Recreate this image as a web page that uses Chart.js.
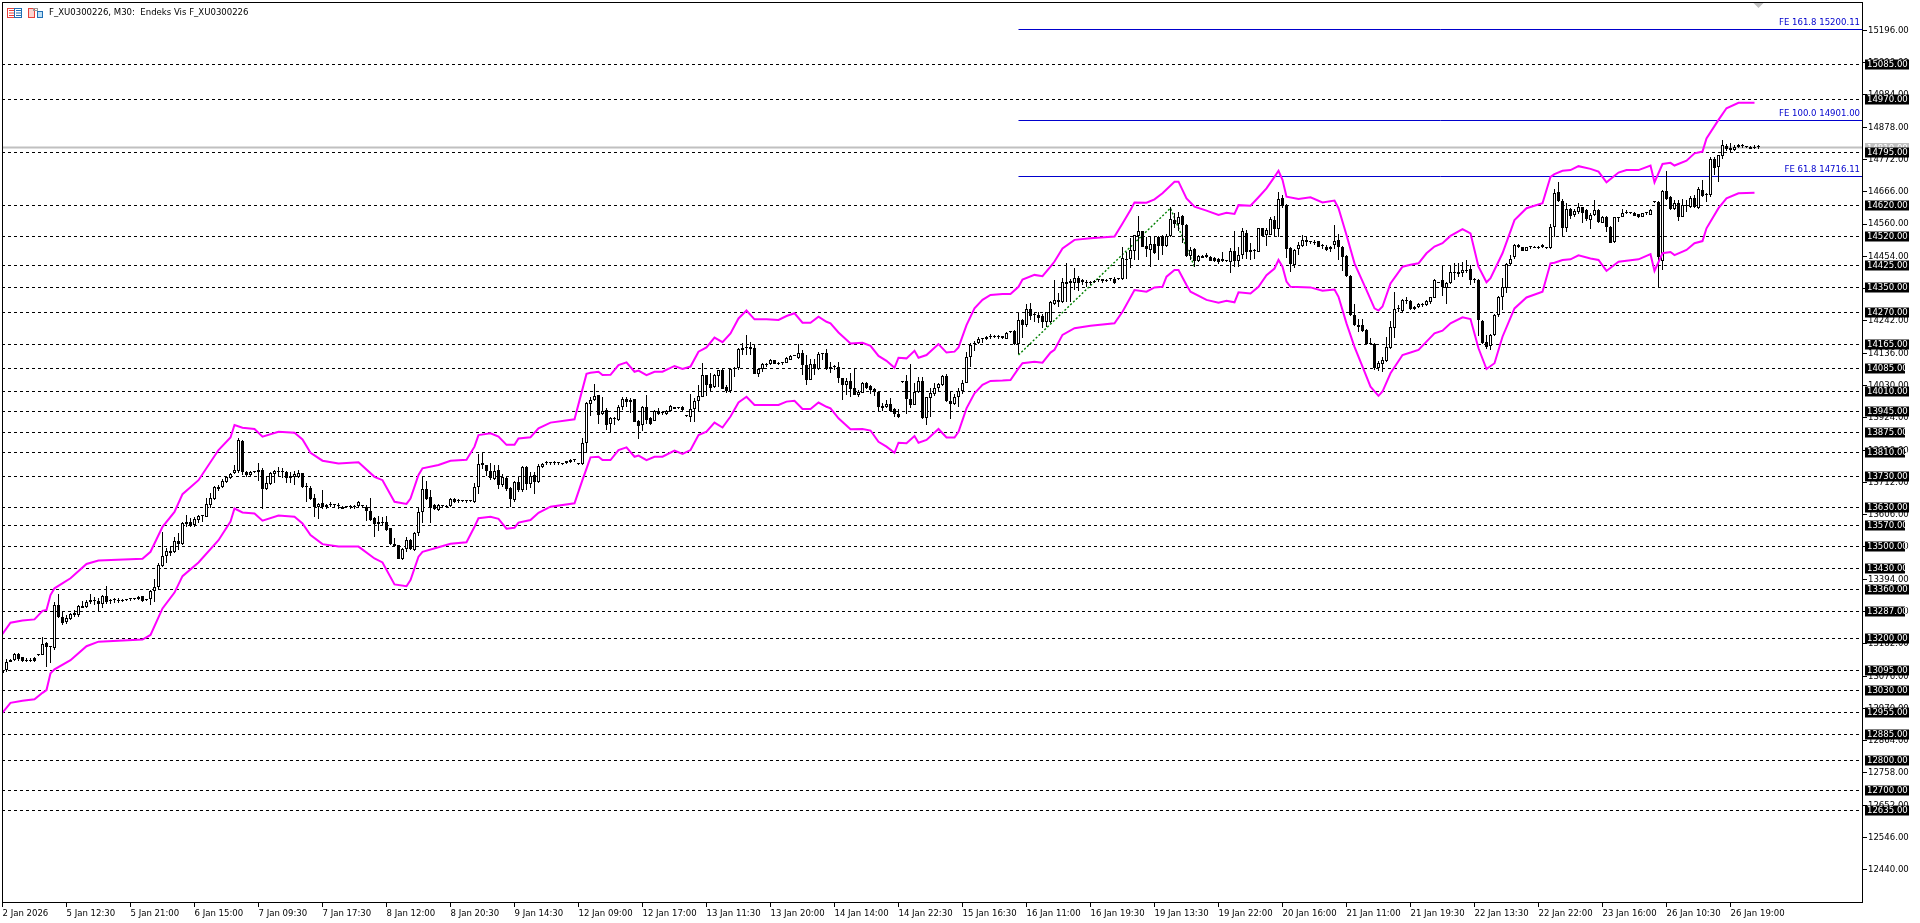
<!DOCTYPE html>
<html>
<head>
<meta charset="utf-8">
<title>F_XU0300226, M30</title>
<script src="https://cdn.jsdelivr.net/npm/chart.js@4"></script>
<style>
	html, body { margin: 0; padding: 0; background: #ffffff; }
	canvas { display: block; }
</style>
</head>
<body>
<canvas id="myChart" width="1920" height="923"></canvas>
<script>
var opens = [
	13096,13096,13128,13128,13147,13137,13129,13130,13134,13144,
	13145,13183,13170,13167,13309,13271,13254,13263,13276,13276,
	13306,13304,13319,13322,13321,13312,13339,13326,13326,13326,
	13324,13325,13328,13329,13328,13338,13325,13329,13354,13367,
	13438,13470,13485,13484,13518,13509,13583,13583,13572,13588,
	13601,13599,13637,13657,13696,13696,13713,13726,13741,13750,
	13849,13747,13737,13746,13745,13751,13689,13706,13739,13749,
	13747,13747,13725,13731,13728,13741,13697,13692,13659,13632,
	13643,13636,13638,13636,13636,13626,13631,13632,13632,13635,
	13634,13632,13617,13594,13575,13583,13583,13561,13511,13505,
	13461,13492,13522,13490,13544,13614,13689,13663,13637,13621,
	13634,13632,13634,13658,13652,13650,13650,13650,13649,13698,
	13774,13768,13748,13724,13751,13703,13727,13692,13654,13713,
	13687,13762,13708,13735,13714,13763,13774,13774,13775,13774,
	13773,13774,13780,13784,13771,13772,13842,13970,13982,13998,
	13936,13949,13903,13924,13917,13959,13985,13982,13985,13912,
	13899,13958,13922,13914,13947,13939,13936,13945,13958,13956,
	13958,13929,13928,13953,13978,13993,14063,14035,14024,14062,
	14081,14024,14011,14088,14087,14152,14157,14157,14152,14069,
	14084,14102,14100,14112,14103,14103,14105,14115,14128,14121,
	14137,14096,14049,14100,14084,14134,14135,14091,14090,14090,
	14053,14032,14044,14021,13999,14006,14037,14028,14018,14010,
	13964,13960,13969,13952,13936,14040,14044,13984,13967,14009,
	14044,13924,13990,14002,14023,14032,14061,13978,13968,13991,
	14011,14039,14122,14166,14168,14183,14181,14190,14193,14190,
	14191,14184,14206,14208,14166,14245,14230,14281,14261,14261,
	14258,14239,14237,14299,14310,14304,14370,14373,14367,14382,
	14376,14366,14367,14369,14376,14373,14376,14378,14378,14378,
	14378,14442,14444,14473,14522,14537,14489,14475,14494,14519,
	14521,14489,14521,14573,14560,14586,14557,14455,14478,14440,
	14450,14457,14453,14447,14446,14438,14438,14435,14470,14440,
	14457,14530,14475,14473,14469,14546,14525,14525,14573,14544,
	14645,14622,14482,14427,14477,14488,14508,14501,14502,14504,
	14488,14486,14486,14490,14508,14485,14455,14390,14261,14229,
	14229,14212,14166,14165,14086,14101,14111,14152,14220,14280,
	14276,14307,14307,14280,14289,14294,14293,14303,14318,14368,
	14376,14349,14365,14404,14403,14398,14410,14411,14376,14376,
	14243,14172,14160,14196,14261,14319,14349,14429,14451,14492,
	14484,14473,14484,14486,14486,14484,14480,14481,14549,14664,
	14637,14548,14609,14589,14600,14615,14606,14573,14589,14606,
	14564,14584,14551,14501,14582,14583,14597,14595,14597,14593,
	14584,14595,14591,14632,14632,14438,14670,14650,14609,14630,
	14584,14621,14617,14644,14613,14672,14655,14654,14775,14748,
	14783,14816,14811,14803,14812,14817,14813,14814,14813,14813
];
var highs = [
	13101,13131,13131,13153,13153,13139,13134,13135,13137,13145,
	13205,13189,13171,13320,13347,13289,13276,13282,13293,13308,
	13322,13326,13347,13334,13331,13342,13371,13330,13332,13331,
	13328,13326,13332,13330,13339,13340,13326,13358,13393,13446,
	13549,13495,13501,13531,13544,13582,13605,13594,13599,13605,
	13605,13659,13676,13700,13703,13724,13733,13744,13769,13856,
	13851,13749,13749,13747,13774,13758,13728,13747,13754,13763,
	13758,13750,13747,13750,13752,13743,13711,13700,13673,13643,
	13687,13641,13648,13641,13645,13633,13632,13636,13636,13650,
	13635,13636,13659,13599,13601,13599,13601,13563,13528,13507,
	13496,13531,13527,13549,13632,13728,13717,13687,13641,13641,
	13639,13636,13660,13661,13658,13651,13654,13651,13709,13805,
	13809,13770,13774,13768,13768,13739,13728,13698,13715,13728,
	13766,13766,13747,13747,13772,13777,13783,13780,13781,13780,
	13776,13782,13790,13790,13772,13856,13977,13993,14035,13999,
	13991,13955,13928,13928,13965,13993,13991,13988,13987,13917,
	13963,13999,13928,13949,13955,13944,13949,13965,13959,13957,
	13963,13930,14002,13988,14032,14103,14065,14070,14068,14081,
	14083,14032,14086,14092,14152,14168,14196,14174,14166,14086,
	14105,14105,14117,14114,14107,14107,14122,14129,14129,14165,
	14146,14129,14116,14116,14140,14135,14149,14108,14096,14108,
	14056,14053,14070,14086,14015,14041,14040,14030,14022,14012,
	13971,13982,13988,13955,13952,14041,14064,14100,14039,14059,
	14059,13993,14021,14039,14039,14064,14068,14013,14002,14023,
	14048,14141,14168,14177,14188,14184,14192,14199,14196,14196,
	14193,14207,14207,14212,14267,14249,14297,14300,14272,14272,
	14265,14272,14307,14376,14335,14382,14431,14378,14415,14389,
	14381,14376,14374,14375,14378,14379,14381,14383,14385,14379,
	14484,14469,14513,14525,14586,14538,14516,14519,14521,14521,
	14523,14527,14617,14595,14601,14590,14560,14483,14480,14458,
	14457,14464,14454,14451,14450,14468,14439,14480,14536,14486,
	14546,14540,14497,14477,14547,14548,14546,14584,14586,14666,
	14655,14625,14486,14477,14501,14524,14516,14505,14508,14505,
	14494,14491,14488,14557,14527,14488,14458,14393,14297,14247,
	14247,14214,14185,14168,14110,14125,14188,14243,14338,14294,
	14313,14322,14311,14290,14302,14300,14311,14322,14378,14369,
	14423,14371,14426,14431,14431,14436,14442,14426,14382,14378,
	14245,14196,14198,14264,14324,14382,14433,14458,14494,14494,
	14486,14486,14488,14487,14489,14494,14481,14560,14674,14699,
	14641,14628,14612,14608,14630,14617,14608,14595,14639,14608,
	14586,14586,14553,14584,14584,14608,14606,14596,14598,14594,
	14597,14600,14608,14633,14634,14672,14734,14652,14639,14639,
	14641,14639,14652,14655,14680,14705,14661,14779,14781,14788,
	14836,14823,14827,14818,14823,14823,14815,14815,14819,14821
];
var lows = [
	13083,13090,13121,13126,13126,13123,13123,13123,13123,13143,
	13144,13105,13120,13161,13265,13244,13247,13260,13271,13271,
	13298,13298,13312,13309,13287,13301,13312,13312,13317,13315,
	13320,13324,13323,13328,13326,13320,13324,13310,13320,13361,
	13435,13446,13470,13481,13490,13506,13564,13564,13564,13579,
	13583,13599,13627,13654,13685,13692,13711,13724,13739,13741,
	13736,13731,13733,13745,13717,13623,13687,13702,13709,13733,
	13725,13711,13709,13703,13725,13695,13648,13654,13599,13592,
	13626,13623,13630,13630,13626,13625,13630,13626,13623,13632,
	13633,13586,13586,13531,13553,13572,13553,13506,13501,13459,
	13457,13484,13490,13487,13536,13580,13654,13580,13621,13618,
	13630,13630,13632,13645,13645,13649,13643,13649,13643,13674,
	13755,13733,13720,13720,13691,13698,13685,13632,13649,13681,
	13680,13687,13692,13674,13711,13760,13769,13770,13770,13769,
	13769,13773,13777,13779,13770,13769,13807,13930,13980,13903,
	13933,13884,13875,13900,13914,13949,13958,13941,13909,13855,
	13882,13903,13899,13912,13934,13933,13933,13944,13953,13955,
	13947,13928,13911,13911,13944,13991,13995,14010,14022,14026,
	14017,14004,14004,14057,14081,14130,14130,14130,14067,14059,
	14075,14090,14097,14099,14096,14098,14103,14112,14127,14118,
	14064,14030,14047,14063,14082,14114,14081,14070,14081,14039,
	13982,13999,13993,13999,13993,14004,14020,14002,13996,13944,
	13947,13956,13944,13925,13924,14039,13936,13956,13965,14006,
	13920,13901,13928,13995,14010,14029,13977,13921,13966,13960,
	14001,14037,14092,14144,14166,14171,14179,14184,14185,14184,
	14181,14181,14205,14163,14132,14187,14223,14245,14239,14234,
	14218,14223,14235,14294,14289,14300,14305,14305,14343,14341,
	14359,14354,14361,14368,14370,14368,14370,14374,14363,14377,
	14376,14378,14415,14442,14442,14484,14453,14420,14462,14442,
	14459,14486,14519,14546,14538,14497,14453,14442,14420,14436,
	14449,14448,14438,14435,14429,14435,14437,14398,14418,14418,
	14444,14446,14442,14444,14467,14519,14488,14523,14519,14519,
	14612,14447,14404,14415,14458,14484,14488,14494,14491,14485,
	14479,14473,14468,14477,14442,14407,14385,14258,14225,14207,
	14205,14163,14163,14081,14079,14075,14108,14149,14185,14271,
	14269,14297,14278,14279,14283,14287,14291,14297,14316,14367,
	14324,14297,14363,14376,14387,14387,14398,14359,14365,14192,
	14165,14149,14146,14192,14256,14278,14335,14425,14444,14480,
	14471,14470,14479,14480,14479,14481,14479,14479,14516,14632,
	14516,14535,14575,14584,14592,14564,14571,14545,14586,14562,
	14562,14535,14497,14499,14567,14582,14593,14594,14586,14581,
	14582,14591,14590,14631,14354,14409,14639,14606,14606,14571,
	14582,14601,14612,14612,14610,14648,14632,14650,14721,14699,
	14775,14801,14796,14799,14809,14810,14809,14805,14806,14805
];
var closes = [
	13085,13123,13123,13147,13131,13126,13127,13127,13126,13144,
	13180,13170,13170,13309,13269,13251,13265,13279,13282,13306,
	13300,13320,13326,13322,13312,13340,13320,13321,13325,13323,
	13321,13325,13328,13329,13335,13321,13325,13355,13368,13441,
	13470,13486,13481,13518,13510,13577,13575,13569,13591,13601,
	13601,13640,13659,13696,13691,13716,13728,13740,13752,13851,
	13747,13737,13745,13746,13751,13689,13709,13741,13749,13746,
	13747,13725,13734,13740,13741,13697,13696,13656,13632,13642,
	13631,13632,13637,13636,13635,13632,13631,13632,13631,13646,
	13634,13619,13588,13575,13583,13579,13557,13508,13503,13461,
	13493,13522,13492,13547,13613,13689,13657,13627,13624,13638,
	13634,13632,13658,13647,13652,13650,13650,13650,13696,13771,
	13768,13748,13726,13750,13704,13728,13690,13656,13713,13687,
	13763,13708,13734,13714,13766,13772,13774,13774,13775,13774,
	13772,13781,13786,13784,13771,13842,13971,13981,13995,13934,
	13947,13901,13924,13920,13959,13985,13977,13977,13911,13898,
	13958,13917,13903,13947,13936,13939,13947,13963,13954,13956,
	13949,13929,13952,13978,13995,14063,14033,14023,14063,14080,
	14020,14011,14084,14083,14149,14146,14154,14151,14069,14084,
	14100,14098,14114,14102,14102,14103,14120,14127,14128,14135,
	14096,14049,14099,14085,14133,14132,14083,14083,14089,14053,
	14032,14044,14018,13999,14007,14037,14022,14014,14007,13960,
	13957,13969,13947,13935,13928,14040,13987,13967,14010,14044,
	13922,13991,14004,14021,14035,14061,13979,13968,13991,14011,
	14037,14122,14164,14166,14183,14183,14189,14190,14190,14190,
	14186,14202,14206,14165,14245,14229,14281,14259,14260,14251,
	14239,14270,14305,14311,14303,14370,14364,14365,14382,14367,
	14371,14366,14367,14374,14376,14378,14374,14378,14367,14378,
	14447,14446,14475,14523,14537,14486,14479,14494,14466,14488,
	14488,14521,14575,14560,14582,14557,14455,14475,14439,14455,
	14456,14453,14439,14438,14435,14445,14438,14470,14440,14457,
	14537,14468,14468,14472,14546,14521,14540,14575,14543,14641,
	14620,14479,14429,14475,14490,14508,14502,14501,14497,14486,
	14487,14476,14477,14505,14485,14453,14388,14260,14227,14221,
	14209,14165,14165,14086,14103,14114,14155,14221,14280,14280,
	14311,14307,14281,14289,14297,14294,14307,14319,14376,14368,
	14354,14365,14403,14398,14396,14409,14407,14376,14376,14245,
	14168,14155,14196,14261,14322,14352,14429,14444,14491,14484,
	14473,14484,14484,14481,14480,14492,14480,14549,14663,14636,
	14548,14608,14587,14603,14615,14597,14575,14590,14606,14568,
	14584,14549,14499,14582,14581,14595,14597,14595,14587,14582,
	14595,14595,14606,14632,14453,14670,14642,14609,14628,14584,
	14621,14620,14644,14615,14674,14652,14654,14772,14743,14786,
	14818,14805,14803,14812,14818,14817,14813,14806,14810,14812
];

// band vertices: bar number and price
var upperBars = [0,2,5,8,10,11,12,13,17,21,24,35,37,40,43,45,49,54,57,58,60,63,65,69,73,75,77,80,84,89,93,95,98,101,102,104,105,109,112,116,118,119,122,124,126,128,129,132,134,137,143,146,147,149,150,152,154,156,158,159,161,163,165,168,170,172,174,176,178,180,182,184,186,188,191,194,196,198,200,202,204,206,207,209,212,215,217,219,221,223,224,226,228,229,231,234,236,238,239,241,243,245,247,250,252,254,255,258,260,262,263,265,268,272,278,280,282,283,286,288,290,293,294,296,298,301,304,306,308,309,312,314,316,318,319,320,321,324,327,330,333,334,336,338,341,343,344,345,347,350,352,354,356,358,360,362,365,367,369,371,372,375,378,381,385,387,388,390,392,394,397,399,401,404,406,409,412,413,415,417,418,421,423,425,426,429,431,434,438];
var upperVals = [13214,13251,13258,13262,13290,13293,13342,13364,13397,13444,13455,13461,13484,13566,13615,13673,13719,13818,13859,13900,13891,13887,13862,13878,13875,13853,13809,13783,13774,13778,13730,13719,13648,13641,13659,13736,13758,13769,13783,13786,13829,13867,13873,13862,13835,13835,13856,13860,13889,13908,13919,14068,14072,14075,14064,14065,14097,14106,14075,14079,14064,14075,14075,14094,14084,14092,14141,14155,14187,14172,14201,14250,14276,14247,14247,14245,14258,14267,14236,14236,14256,14239,14234,14204,14168,14170,14160,14127,14111,14088,14121,14119,14144,14121,14130,14166,14138,14141,14155,14228,14283,14311,14327,14330,14330,14354,14378,14393,14389,14420,14437,14480,14508,14513,14519,14562,14606,14631,14630,14641,14661,14699,14699,14644,14617,14604,14590,14597,14593,14622,14620,14648,14677,14715,14735,14705,14650,14642,14648,14631,14637,14612,14524,14431,14343,14283,14276,14289,14365,14420,14426,14431,14464,14486,14497,14521,14543,14529,14420,14369,14382,14464,14573,14612,14628,14715,14724,14735,14737,14750,14741,14732,14697,14729,14737,14737,14752,14697,14757,14761,14752,14768,14792,14798,14841,14902,14940,14958,14958];
var lowerBars = [0,2,5,8,10,11,12,13,17,21,24,35,37,40,43,45,49,54,57,58,60,63,65,69,73,75,77,80,84,89,93,95,98,101,102,104,105,109,112,116,118,119,122,124,126,128,129,132,134,137,143,145,147,149,150,152,154,156,158,159,161,163,165,168,170,172,174,176,178,180,182,184,186,188,191,194,196,198,200,202,204,206,207,209,212,215,217,219,221,223,224,226,228,229,231,234,236,238,239,241,243,245,247,250,252,254,255,258,260,262,263,265,268,272,278,280,283,286,288,290,291,293,294,296,297,301,304,306,308,309,312,314,316,318,319,320,321,322,327,330,333,334,336,338,340,342,344,345,347,350,352,354,356,358,360,362,365,367,369,371,373,375,378,381,385,387,388,390,392,394,397,399,401,404,409,412,413,415,417,418,421,423,425,426,429,431,434,438];
var lowerVals = [12956,12988,12995,13000,13021,13030,13085,13098,13128,13174,13189,13196,13211,13298,13350,13404,13449,13522,13583,13626,13613,13610,13586,13603,13599,13577,13539,13509,13501,13501,13462,13449,13377,13371,13391,13468,13484,13499,13510,13515,13566,13594,13599,13592,13560,13563,13580,13588,13612,13632,13643,13720,13794,13796,13785,13785,13818,13827,13796,13800,13785,13796,13796,13816,13805,13818,13867,13878,13908,13892,13928,13974,13993,13966,13966,13966,13977,13980,13953,13953,13974,13960,13955,13922,13886,13887,13882,13845,13829,13809,13842,13840,13864,13842,13851,13887,13859,13859,13878,13955,14004,14032,14045,14046,14048,14086,14103,14108,14105,14138,14147,14196,14218,14226,14234,14272,14343,14338,14352,14354,14387,14409,14409,14360,14338,14311,14302,14308,14303,14336,14332,14354,14392,14414,14442,14420,14371,14354,14352,14341,14345,14321,14234,14157,14092,14026,13996,14010,14070,14130,14138,14147,14174,14201,14210,14234,14254,14248,14152,14084,14103,14190,14283,14319,14338,14431,14433,14442,14444,14457,14447,14442,14406,14436,14444,14461,14406,14464,14468,14458,14475,14497,14504,14546,14612,14644,14661,14663];

var levels = [15085,14970,14795,14620,14520,14425,14350,14270,14165,14085,14010,13945,13875,13810,13730,13630,13570,13500,13430,13360,13287,13200,13095,13030,12955,12885,12800,12700,12635];
var narrowLevels = [14085,13875,13810,13570,13500,13430,13287];
var bidPrice = 14811;
var bidLabel = '14810.00';
var feVals = [15200.11,14901.00,14716.11];
var feLabels = ['FE 161.8 15200.11','FE 100.0 14901.00','FE 61.8 14716.11'];
var feStartBar = 254;
var greenBars = [254,292,298];
var greenVals = [14130,14612,14420];

var yTicks = [15196,15090,14984,14878,14772,14666,14560,14454,14348,14242,14136,14030,13924,13818,13712,13606,13500,13394,13288,13182,13076,12970,12864,12758,12652,12546,12440];
var xTickBars = [0,16,32,48,64,80,96,112,128,144,160,176,192,208,224,240,256,272,288,304,320,336,352,368,384,400,416,432];
var xTickLabels = ['2 Jan 2026','5 Jan 12:30','5 Jan 21:00','6 Jan 15:00','7 Jan 09:30','7 Jan 17:30','8 Jan 12:00','8 Jan 20:30','9 Jan 14:30','12 Jan 09:00','12 Jan 17:00','13 Jan 11:30','13 Jan 20:00','14 Jan 14:00','14 Jan 22:30','15 Jan 16:30','16 Jan 11:00','16 Jan 19:30','19 Jan 13:30','19 Jan 22:00','20 Jan 16:00','21 Jan 11:00','21 Jan 19:30','22 Jan 13:30','22 Jan 22:00','23 Jan 16:00','26 Jan 10:30','26 Jan 19:00'];
var titleText = 'F_XU0300226, M30:  Endeks Vis F_XU0300226';

var xMin = -0.125;
var xMax = 465.125;
var axisFont = { family: '"DejaVu Sans Condensed", "Liberation Sans", sans-serif', size: 9.5 };
var axisFontCss = '9.5px "DejaVu Sans Condensed", "Liberation Sans", sans-serif';

function pairs(bars, vals) {
	return bars.map(function (b, i) {
		return { x: b, y: vals[i] };
	});
}

function flatLine(y, from) {
	return { type: 'line', data: [{ x: from, y: y }, { x: xMax, y: y }], pointRadius: 0, tension: 0, fill: false };
}

var datasets = [];

levels.forEach(function (level) {
	var d = flatLine(level, xMin);
	d.borderColor = '#000000';
	d.borderWidth = 1;
	d.borderDash = [3, 3];
	d.order = 6;
	d.snapLine = true;
	datasets.push(d);
});

var bid = flatLine(bidPrice, xMin);
bid.borderColor = '#c0c0c0';
bid.borderWidth = 2;
bid.order = 7;
datasets.push(bid);

feVals.forEach(function (v) {
	var d = flatLine(v, feStartBar);
	d.borderColor = '#0000cd';
	d.borderWidth = 1;
	d.order = 5;
	d.snapLine = true;
	datasets.push(d);
});

datasets.push({
	type: 'line',
	data: pairs(greenBars, greenVals),
	borderColor: '#008000',
	borderWidth: 1.4,
	borderDash: [2, 2],
	pointRadius: 0,
	tension: 0,
	fill: false,
	order: 4,
});

// wicks
datasets.push({
	type: 'bar',
	data: highs.map(function (h, i) {
		return { x: i, y: [lows[i], h] };
	}),
	backgroundColor: '#000000',
	borderWidth: 0,
	barThickness: 1,
	inflateAmount: 0,
	grouped: false,
	order: 3,
	snapBar: true,
});

// bodies
datasets.push({
	type: 'bar',
	data: opens.map(function (o, i) {
		return { x: i, y: [Math.min(o, closes[i]), Math.max(o, closes[i])] };
	}),
	backgroundColor: opens.map(function (o, i) {
		return closes[i] > o ? '#ffffff' : '#000000';
	}),
	borderColor: '#000000',
	borderWidth: 1,
	borderSkipped: false,
	barThickness: 3,
	inflateAmount: 0,
	minBarLength: 1,
	grouped: false,
	order: 2,
	snapBar: true,
});

[[upperBars, upperVals], [lowerBars, lowerVals]].forEach(function (band) {
	datasets.push({
		type: 'line',
		data: pairs(band[0], band[1]),
		borderColor: '#ff00ff',
		borderWidth: 2,
		pointRadius: 0,
		tension: 0,
		fill: false,
		order: 1,
	});
});

// keeps the thin lines and candles on whole pixels like the terminal draws them
var snapPlugin = {
	id: 'snapPlugin',
	afterDatasetsUpdate: function (chart) {
		chart.data.datasets.forEach(function (d, i) {
			var meta = chart.getDatasetMeta(i);
			if (d.snapLine) {
				meta.data.forEach(function (p) {
					p.y = Math.floor(p.y) + 0.5;
				});
			}
			if (d.snapBar) {
				meta.data.forEach(function (b) {
					b.y = Math.round(b.y);
					b.base = Math.round(b.base);
					if (b.base === b.y) {
						b.base = b.y + 1;
					}
				});
			}
		});
	},
};

function priceBox(ctx, y, right, fill, textColor, text) {
	ctx.fillStyle = fill;
	ctx.fillRect(1865, y - 5, right - 1865, 10);
	ctx.fillStyle = textColor;
	ctx.fillText(text, 1867, y + 0.5);
}

function drawIcons(ctx) {
	var k;
	ctx.lineWidth = 1;
	ctx.strokeStyle = '#e8403a';
	ctx.strokeRect(7.5, 8.5, 7, 9);
	for (k = 0; k < 3; k++) {
		ctx.beginPath();
		ctx.moveTo(9, 10.5 + k * 2.5);
		ctx.lineTo(14, 10.5 + k * 2.5);
		ctx.stroke();
	}
	ctx.strokeStyle = '#1f6fb5';
	ctx.strokeRect(14.5, 8.5, 7, 9);
	for (k = 0; k < 3; k++) {
		ctx.beginPath();
		ctx.moveTo(16, 10.5 + k * 2.5);
		ctx.lineTo(21, 10.5 + k * 2.5);
		ctx.stroke();
	}
	ctx.fillStyle = '#fbd5d0';
	ctx.fillRect(28, 8, 7, 10);
	ctx.strokeStyle = '#e8403a';
	ctx.strokeRect(28.5, 8.5, 6, 9);
	ctx.fillStyle = '#bfe0f5';
	ctx.fillRect(37, 11, 6, 7);
	ctx.strokeStyle = '#1f6fb5';
	ctx.strokeRect(37.5, 11.5, 5, 6);
	ctx.strokeStyle = '#9a9a9a';
	ctx.strokeRect(33.5, 8.5, 4, 2);
}

var overlayPlugin = {
	id: 'overlayPlugin',
	afterDraw: function (chart) {
		var ctx = chart.ctx;
		var y = chart.scales.y;
		var x = chart.scales.x;
		var a = chart.chartArea;
		ctx.save();

		ctx.strokeStyle = '#000000';
		ctx.lineWidth = 1;
		ctx.strokeRect(2.5, 2.5, a.right - 3, a.bottom - 2);

		ctx.font = axisFontCss;
		ctx.textBaseline = 'middle';

		ctx.textAlign = 'right';
		ctx.fillStyle = '#0000cd';
		feVals.forEach(function (v, i) {
			ctx.fillText(feLabels[i], 1860, Math.floor(y.getPixelForValue(v)) - 6);
		});

		ctx.textAlign = 'left';
		priceBox(ctx, Math.round(y.getPixelForValue(bidPrice)), 1909, '#c0c0c0', '#ffffff', bidLabel);
		levels.forEach(function (level) {
			var right = narrowLevels.indexOf(level) >= 0 ? 1905 : 1909;
			priceBox(ctx, Math.floor(y.getPixelForValue(level)) + 0.5, right, '#000000', '#ffffff', level.toFixed(2));
		});

		ctx.fillStyle = '#000000';
		ctx.fillText(titleText, 49, 13);
		drawIcons(ctx);

		// shift marker above the last bar
		var lastX = x.getPixelForValue(opens.length - 1);
		ctx.fillStyle = '#c0c0c0';
		ctx.beginPath();
		ctx.moveTo(lastX - 5, 3);
		ctx.lineTo(lastX + 5, 3);
		ctx.lineTo(lastX, 8);
		ctx.closePath();
		ctx.fill();

		ctx.restore();
	},
};

var ctx = document.getElementById('myChart');
var myChart = new Chart(ctx, {
	type: 'bar',
	data: { datasets: datasets },
	plugins: [snapPlugin, overlayPlugin],
	options: {
		responsive: false,
		animation: false,
		events: [],
		layout: { padding: { left: 2, top: 2, right: 0, bottom: 0 } },
		plugins: {
			legend: { display: false },
			title: { display: false },
			tooltip: { enabled: false },
		},
		scales: {
			x: {
				type: 'linear',
				offset: false,
				min: xMin,
				max: xMax,
				grid: { offset: false, drawOnChartArea: false, color: '#000000', tickLength: 5 },
				border: { display: false },
				ticks: {
					autoSkip: false,
					maxRotation: 0,
					minRotation: 0,
					align: 'start',
					padding: 1,
					color: '#000000',
					font: axisFont,
					callback: function (value, index) {
						return xTickLabels[index];
					},
				},
				afterBuildTicks: function (axis) {
					axis.ticks = xTickBars.map(function (b) {
						return { value: b };
					});
				},
				afterFit: function (axis) {
					axis.height = 21;
					axis.paddingLeft = 0;
					axis.paddingRight = 0;
				},
			},
			y: {
				position: 'right',
				min: 12334.2,
				max: 15288.93,
				grid: { drawOnChartArea: false, color: '#000000', tickLength: 4 },
				border: { display: false },
				ticks: {
					autoSkip: false,
					padding: 1,
					color: '#000000',
					font: axisFont,
					callback: function (value) {
						return value.toFixed(2);
					},
				},
				afterBuildTicks: function (axis) {
					axis.ticks = yTicks.map(function (v) {
						return { value: v };
					});
				},
				afterFit: function (axis) {
					axis.width = 57;
					axis.paddingTop = 0;
					axis.paddingBottom = 0;
				},
			},
		},
	},
});
</script>
</body>
</html>
